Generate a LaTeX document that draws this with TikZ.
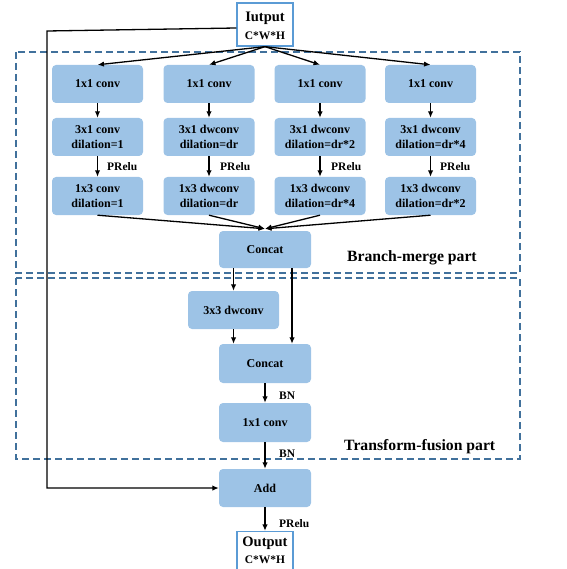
\documentclass[tikz,border=0pt]{standalone}
\usepackage{fontspec}
\setmainfont{Liberation Serif}
\usetikzlibrary{arrows.meta}
\definecolor{boxblue}{HTML}{9DC3E6}
\definecolor{ioblue}{HTML}{5B9BD5}
\definecolor{dashblue}{HTML}{41719C}
\tikzset{
  blk/.style={fill=boxblue, rounded corners=4pt, minimum width=91pt, minimum height=38pt,
    inner sep=0pt, align=center, font=\bfseries\fontsize{12}{15.5}\selectfont},
  iobox/.style={draw=ioblue, line width=1.3pt, fill=white, minimum width=56pt,
    minimum height=43pt, inner sep=0pt, align=center, font=\bfseries\fontsize{11.5}{15}\selectfont},
  arr/.style={line width=1.3pt, -{Latex[length=6.5pt,width=5.5pt]}},
  lbl/.style={anchor=west, inner sep=0pt, font=\bfseries\fontsize{11.5}{13}\selectfont},
  part/.style={anchor=west, inner sep=0pt, font=\bfseries\fontsize{15.7}{17}\selectfont},
  region/.style={draw=dashblue, line width=1.8pt, dash pattern=on 7pt off 4pt}
}
\begin{document}
\begin{tikzpicture}[x=1pt,y=-1pt]
\useasboundingbox (0,0) rectangle (566,569);
% regions
\draw[region] (16,52) rectangle (520,273);
\draw[region] (16,278) rectangle (520,459);
\node[part] (bm) at (347,258) {Branch-merge part};
\node[part] (tf) at (344,447) {Transform-fusion part};
% input
\node[iobox] (in) at (265,24.5) {};
\node[inner sep=0pt, align=center, font=\bfseries\fontsize{11.5}{15}\selectfont] (intxt) at (265,25.5) {{\fontsize{14.5}{15}\selectfont Iutput}\\[3pt]C*W*H};
% branches
\node[blk] (a1) at (97.5,84) {1x1 conv};
\node[blk] (a2) at (209,84) {1x1 conv};
\node[blk] (a3) at (320,84) {1x1 conv};
\node[blk] (a4) at (430.5,84) {1x1 conv};
\node[blk] (b1) at (97.5,137) {3x1 conv\\dilation=1};
\node[blk] (b2) at (209,137) {3x1 dwconv\\dilation=dr};
\node[blk] (b3) at (320,137) {3x1 dwconv\\dilation=dr*2};
\node[blk] (b4) at (430.5,137) {3x1 dwconv\\dilation=dr*4};
\node[blk] (c1) at (97.5,196) {1x3 conv\\dilation=1};
\node[blk] (c2) at (209,196) {1x3 dwconv\\dilation=dr};
\node[blk] (c3) at (320,196) {1x3 dwconv\\dilation=dr*4};
\node[blk] (c4) at (430.5,196) {1x3 dwconv\\dilation=dr*2};
\node[blk, minimum width=92pt, minimum height=37pt] (cat1) at (265,249.5) {Concat};
\node[blk] (dw) at (233.5,310) {3x3 dwconv};
\node[blk, minimum width=92pt, minimum height=39pt] (cat2) at (265,363.5) {Concat};
\node[blk, minimum width=92pt, minimum height=39pt] (c11) at (265,422.5) {1x1 conv};
\node[blk, minimum width=92pt, minimum height=38pt] (add) at (265,488) {Add};
\node[iobox, minimum height=39pt] (out) at (265,551) {};
\node[inner sep=0pt, align=center, font=\bfseries\fontsize{11.5}{15}\selectfont] (outtxt) at (265,550.5) {{\fontsize{14.5}{15}\selectfont Output}\\[1.5pt]C*W*H};
% connectors
\foreach \i in {1,2,3,4}{
  \draw[arr] (in.south) -- (a\i.north);
  \draw[arr] (a\i.south) -- (b\i.north);
  \draw[arr] (b\i.south) -- (c\i.north);
  \draw[arr] (c\i.south) -- ([yshift=2pt]cat1.north);
}
\node[lbl] (p1) at (107,167) {PRelu};
\node[lbl] (p2) at (220,167) {PRelu};
\node[lbl] (p3) at (331,167) {PRelu};
\node[lbl] (p4) at (440,167) {PRelu};
\draw[arr] (cat1.south -| dw.north) -- (dw.north);
\draw[arr] ([xshift=27pt]cat1.south) -- ([xshift=27pt]cat2.north);
\draw[arr] (dw.south) -- (dw.south |- cat2.north);
\draw[arr] (cat2.south) -- (c11.north);
\node[lbl] (bn1) at (279,396) {BN};
\draw[arr] (c11.south) -- (add.north);
\node[lbl] (bn2) at (279,454) {BN};
\draw[arr] (add.south) -- (out.north);
\node[lbl] (p5) at (279,524) {PRelu};
\coordinate (lc) at (47,31);
\draw[arr] ([yshift=-3.5pt]in.west) -- (lc) |- (add.west);
\end{tikzpicture}
\end{document}
